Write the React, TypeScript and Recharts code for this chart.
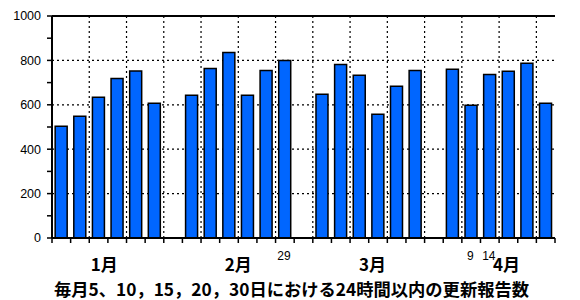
import React from 'react';
import {
  BarChart,
  Bar,
  XAxis,
  YAxis,
  CartesianGrid,
  ReferenceLine,
} from 'recharts';

// 各月 5,10,15,20,25,30 日の値（読み取り）
const jan = [503, 548, 634, 719, 752, 607];
const feb = [643, 764, 836, 643, 755, 800];
const mar = [647, 782, 733, 557, 683, 755];
const apr = [760, 598, 737, 751, 787, 607];
const days = [5, 10, 15, 20, 25, 30];
const months = [1, 2, 3, 4];

// 月ラベル・日付ラベル（枠単位の位置）
const monthLabels = ['1月', '2月', '3月', '4月'];
const monthPos = [2.8, 10.0, 17.2, 24.4];
const dayLabels = ['29', '9', '14'];
const dayPos = [12.45, 22.45, 23.45];

const yTicks = [0, 100, 200, 300, 400, 500, 600, 700, 800, 900, 1000];
const gridY = [200, 400, 600, 800];

const TITLE = '毎月5、10，15，20，30日における24時間以内の更新報告数';

const W = 580;
const H = 300;
const MARGIN = { top: 16, right: 25, left: 0, bottom: 0 };
const Y_W = 52;

// 棒データ：月ごとに6本 + 空き1枠
const series = [jan, feb, mar, apr];
const data: { name: string; value: number | null }[] = [];
series.forEach((vals, m) => {
  vals.forEach((v, i) => data.push({ name: `${months[m]}-${days[i]}`, value: v }));
  if (m < series.length - 1) data.push({ name: `gap-${m}`, value: null });
});
const slotCount = data.length; // 27
const BW = (W - MARGIN.left - MARGIN.right - Y_W) / slotCount;
const gridNames = data.map((d) => d.name).filter((_, i) => i > 0 && i % 2 === 0);

const BottomTick = (props: any) => {
  const { x, y, index } = props;
  const left = x - BW / 2;
  const labelX = (pos: number) => x + (pos - index - 0.5) * BW;
  return (
    <g>
      <line x1={left} x2={left} y1={y} y2={y + 5} stroke="#000" strokeWidth={1.5} />
      {index === slotCount - 1 && (
        <line x1={x + BW / 2} x2={x + BW / 2} y1={y} y2={y + 5} stroke="#000" strokeWidth={1.5} />
      )}
      {monthPos.map((p, k) =>
        Math.floor(p) === index ? (
          <text
            key={`m${k}`}
            x={labelX(p)}
            y={y + 33}
            textAnchor="middle"
            fontSize={17}
            fontWeight="bold"
            fontFamily="'Noto Sans CJK JP', sans-serif"
            fill="#000"
          >
            {monthLabels[k]}
          </text>
        ) : null
      )}
      {dayPos.map((p, k) =>
        Math.floor(p) === index ? (
          <text
            key={`d${k}`}
            x={labelX(p)}
            y={y + 22}
            textAnchor="middle"
            fontSize={12}
            fontFamily="'Liberation Sans', Arial, sans-serif"
            fill="#000"
          >
            {dayLabels[k]}
          </text>
        ) : null
      )}
    </g>
  );
};

export default function App() {
  return (
    <div style={{ position: 'absolute', left: 0, top: 0, width: W, height: H, background: '#fff' }}>
      <BarChart width={W} height={H} data={data} margin={MARGIN} barCategoryGap="17%">
        <CartesianGrid
          stroke="#000"
          strokeWidth={1.2}
          strokeDasharray="2 3"
          vertical={false}
          horizontalValues={gridY}
        />
        {gridNames.map((n) => (
          <ReferenceLine
            key={n}
            x={n}
            position="start"
            stroke="#000"
            strokeWidth={1.2}
            strokeDasharray="2 3"
          />
        ))}
        <XAxis
          dataKey="name"
          interval={0}
          tickSize={0}
          tickMargin={0}
          tickLine={false}
          axisLine={{ stroke: '#000', strokeWidth: 2 }}
          tick={<BottomTick />}
          height={62}
          label={{
            value: TITLE,
            position: 'insideBottom',
            offset: 4,
            dx: -12,
            style: {
              fontSize: 17.3,
              fontWeight: 'bold',
              fontFamily: "'Noto Sans CJK JP', sans-serif",
              fill: '#000',
            },
          }}
        />
        <YAxis
          width={Y_W}
          domain={[0, 1000]}
          ticks={yTicks}
          interval={0}
          tickSize={5}
          tickMargin={6}
          tickFormatter={(v: number) => (v % 200 === 0 ? String(v) : '')}
          axisLine={{ stroke: '#000', strokeWidth: 2 }}
          tickLine={{ stroke: '#000', strokeWidth: 1.5 }}
          tick={{ fill: '#000', fontSize: 12.5, fontFamily: "'Liberation Sans', Arial, sans-serif" }}
        />
        <ReferenceLine y={1000} stroke="#000" strokeWidth={2} />
        <ReferenceLine x={data[slotCount - 1].name} position="end" stroke="#000" strokeWidth={2} />
        <Bar
          dataKey="value"
          fill="#0066ff"
          stroke="#000"
          strokeWidth={1.5}
          isAnimationActive={false}
        />
      </BarChart>
    </div>
  );
}
